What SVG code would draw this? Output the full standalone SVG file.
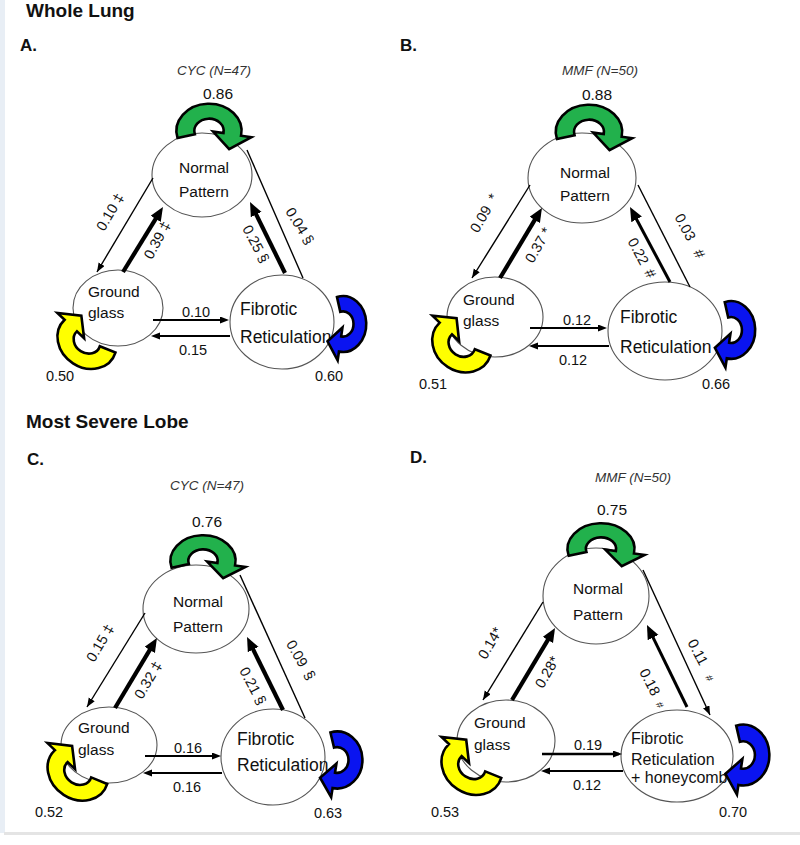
<svg xmlns="http://www.w3.org/2000/svg" xmlns:xlink="http://www.w3.org/1999/xlink" width="800" height="845" viewBox="0 0 800 845">
<style>
.bg{fill:#fff}
.node ellipse{fill:#fff;stroke:#555;stroke-width:1.1}
text{font-family:"Liberation Sans",Arial,Helvetica,sans-serif;fill:#111}
.h{font-size:19px;font-weight:bold}
.p{font-size:17px;font-weight:bold}
.g{font-size:13.5px;font-style:italic;fill:#333;text-anchor:middle}
.nl{font-size:15.5px}
.nc{font-size:15.5px;text-anchor:middle}
.fr{font-size:17.5px}
.frd{font-size:16px}
.v{font-size:15.5px;text-anchor:middle}
.e{font-size:14.5px;text-anchor:middle}
.thin{stroke:#000;stroke-width:1.4;fill:none}
.thick{stroke:#000;stroke-width:4.2;fill:none}
.med{stroke:#000;stroke-width:3;fill:none}
.hz{stroke:#000;stroke-width:1.8;fill:none}
.loop{stroke:#000;stroke-width:2.6;stroke-linejoin:miter}
</style>
<defs>
<marker id="mt" markerUnits="userSpaceOnUse" markerWidth="10" markerHeight="8" refX="9" refY="3.5" orient="auto"><path d="M0,0 L9,3.5 L0,7 Z" fill="#000"/></marker>
<marker id="mh" markerUnits="userSpaceOnUse" markerWidth="10" markerHeight="8" refX="6" refY="3.5" orient="auto"><path d="M0,0 L9,3.5 L0,7 Z" fill="#000"/></marker>
<marker id="mk" markerUnits="userSpaceOnUse" markerWidth="15" markerHeight="13" refX="3" refY="6" orient="auto"><path d="M0,0 L14,6 L0,12 Z" fill="#000"/></marker>
<path id="loop" d="M-29.94,8.02 A31,31 0 1 1 30.53,5.38 L40.38,7.12 L19.2,20.65 L3.94,0.69 L13.79,2.43 A14,14 0 1 0 -13.52,3.62 Z" vector-effect="non-scaling-stroke"/>
</defs>
<rect class="bg" x="0" y="0" width="800" height="845"/>
<rect x="0" y="0" width="5" height="833" fill="#e8eef5"/>
<rect x="4" y="832" width="796" height="3" fill="#e4e4e4"/>

<text class="h" x="26" y="17">Whole Lung</text>
<text class="h" x="26" y="428">Most Severe Lobe</text>
<text class="p" x="20" y="51">A.</text>
<text class="p" x="400" y="51">B.</text>
<text class="p" x="27" y="465">C.</text>
<text class="p" x="410" y="463">D.</text>
<text class="g" x="214" y="75">CYC (N=47)</text>
<text class="g" x="600" y="75">MMF (N=50)</text>
<text class="g" x="207" y="490">CYC (N=47)</text>
<text class="g" x="633" y="482">MMF (N=50)</text>

<!-- Panel A nodes -->
<g id="A-normal" class="node"><ellipse cx="202" cy="175" rx="50" ry="42"/><text class="nc" x="204" y="173">Normal</text><text class="nc" x="204" y="197">Pattern</text></g>
<g id="A-ground" class="node"><ellipse cx="118" cy="308" rx="45" ry="38"/><text class="nl" x="88" y="297">Ground</text><text class="nl" x="88" y="318">glass</text></g>
<g id="A-fibrotic" class="node"><ellipse cx="282" cy="322" rx="52" ry="47"/><text class="fr" x="240" y="315">Fibrotic</text><text class="fr" x="240" y="343">Reticulation</text></g>

<!-- Panel B nodes -->
<g id="B-normal" class="node"><ellipse cx="582" cy="178" rx="54" ry="45"/><text class="nc" x="585" y="178">Normal</text><text class="nc" x="585" y="201">Pattern</text></g>
<g id="B-ground" class="node"><ellipse cx="495" cy="317" rx="48" ry="40"/><text class="nl" x="463" y="305">Ground</text><text class="nl" x="463" y="326">glass</text></g>
<g id="B-fibrotic" class="node"><ellipse cx="665" cy="331" rx="57" ry="49"/><text class="fr" x="620" y="323">Fibrotic</text><text class="fr" x="620" y="353">Reticulation</text></g>

<!-- Panel C nodes -->
<g id="C-normal" class="node"><ellipse cx="196" cy="609" rx="53" ry="44"/><text class="nc" x="198" y="607">Normal</text><text class="nc" x="198" y="632">Pattern</text></g>
<g id="C-ground" class="node"><ellipse cx="109" cy="745" rx="48" ry="38"/><text class="nl" x="78" y="733">Ground</text><text class="nl" x="78" y="755">glass</text></g>
<g id="C-fibrotic" class="node"><ellipse cx="273" cy="757" rx="52" ry="48"/><text class="fr" x="237" y="745">Fibrotic</text><text class="fr" x="237" y="771">Reticulation</text></g>

<!-- Panel D nodes -->
<g id="D-normal" class="node"><ellipse cx="596" cy="596" rx="53" ry="48"/><text class="nc" x="598" y="594">Normal</text><text class="nc" x="598" y="620">Pattern</text></g>
<g id="D-ground" class="node"><ellipse cx="506" cy="741" rx="49" ry="41"/><text class="nl" x="474" y="728">Ground</text><text class="nl" x="474" y="750">glass</text></g>
<g id="D-fibrotic" class="node"><ellipse cx="677" cy="756" rx="56" ry="46"/><text class="frd" x="631" y="744">Fibrotic</text><text class="frd" x="631" y="765">Reticulation</text><text class="frd" x="631" y="783">+ honeycomb</text></g>

<g id="connectors">
<!-- Panel A -->
<line class="thin" x1="153" y1="178" x2="97" y2="272" marker-end="url(#mt)"/>
<line class="thick" x1="123" y1="272" x2="157.2" y2="216.4" marker-end="url(#mk)"/>
<line class="thick" x1="285" y1="273" x2="254.9" y2="211.9" marker-end="url(#mk)"/>
<line class="thin" x1="247" y1="150" x2="303" y2="278"/>
<line class="hz" x1="153" y1="320" x2="226" y2="320" marker-end="url(#mh)"/>
<line class="hz" x1="230" y1="336" x2="154" y2="336" marker-end="url(#mh)"/>
<!-- Panel B -->
<line class="thin" x1="530" y1="185" x2="472" y2="278" marker-end="url(#mt)"/>
<line class="thick" x1="500" y1="278" x2="536.3" y2="217.4" marker-end="url(#mk)"/>
<line class="med" x1="670" y1="282" x2="635.2" y2="216.7" marker-end="url(#mk)"/>
<line class="thin" x1="638" y1="185" x2="690" y2="287"/>
<line class="hz" x1="530" y1="328" x2="604" y2="328" marker-end="url(#mh)"/>
<line class="hz" x1="609" y1="346" x2="532" y2="346" marker-end="url(#mh)"/>
<!-- Panel C -->
<line class="thin" x1="145" y1="613" x2="87" y2="707" marker-end="url(#mt)"/>
<line class="thick" x1="115" y1="708" x2="151.3" y2="647.4" marker-end="url(#mk)"/>
<line class="thick" x1="283" y1="710" x2="251.9" y2="646.9" marker-end="url(#mk)"/>
<line class="thin" x1="240" y1="575" x2="305" y2="718"/>
<line class="hz" x1="145" y1="756" x2="218" y2="756" marker-end="url(#mh)"/>
<line class="hz" x1="222" y1="773" x2="146" y2="773" marker-end="url(#mh)"/>
<!-- Panel D -->
<line class="thin" x1="543" y1="602" x2="483" y2="700" marker-end="url(#mt)"/>
<line class="thick" x1="512" y1="700" x2="549.4" y2="637.4" marker-end="url(#mk)"/>
<line class="med" x1="687" y1="707" x2="651.8" y2="634.9" marker-end="url(#mk)"/>
<line class="thin" x1="643" y1="570" x2="710" y2="715" marker-end="url(#mt)"/>
<line class="hz" style="stroke-width:2.5" x1="542" y1="754" x2="619" y2="754" marker-end="url(#mh)"/>
<line class="hz" x1="623" y1="771" x2="544" y2="771" marker-end="url(#mh)"/>

<!-- self loops -->
<use xlink:href="#loop" class="loop" fill="#22b14c" transform="translate(209,131) scale(1.05,0.88)"/>
<use xlink:href="#loop" class="loop" fill="#ffff00" transform="translate(87,341) rotate(215) scale(1.0,0.85)"/>
<use xlink:href="#loop" class="loop" fill="#0a14f0" transform="translate(343,324) rotate(90) scale(0.9,0.75)"/>

<use xlink:href="#loop" class="loop" fill="#22b14c" transform="translate(589,132) scale(1.07,0.88)"/>
<use xlink:href="#loop" class="loop" fill="#ffff00" transform="translate(462,344) rotate(215) scale(1.0,0.87)"/>
<use xlink:href="#loop" class="loop" fill="#0a14f0" transform="translate(731,330) rotate(90) scale(0.93,0.78)"/>

<use xlink:href="#loop" class="loop" fill="#22b14c" transform="translate(203,561) scale(1.05,0.83)"/>
<use xlink:href="#loop" class="loop" fill="#ffff00" transform="translate(78,772) rotate(215) scale(1.03,0.87)"/>
<use xlink:href="#loop" class="loop" fill="#0a14f0" transform="translate(337,760) rotate(90) scale(0.92,0.82)"/>

<use xlink:href="#loop" class="loop" fill="#22b14c" transform="translate(601,549) scale(1.08,0.83)"/>
<use xlink:href="#loop" class="loop" fill="#ffff00" transform="translate(472,766) rotate(215) scale(1.03,0.88)"/>
<use xlink:href="#loop" class="loop" fill="#0a14f0" transform="translate(743,755) rotate(90) scale(0.98,0.85)"/>

<!-- edge labels A -->
<text class="e" transform="translate(110,212) rotate(-60)" dy="0.35em">0.10 ‡</text>
<text class="e" transform="translate(157,240) rotate(-62)" dy="0.35em">0.39 ‡</text>
<text class="e" transform="translate(256,244) rotate(62)" dy="0.35em">0.25 §</text>
<text class="e" transform="translate(300,226) rotate(58)" dy="0.35em">0.04 §</text>
<text class="e" x="196" y="317">0.10</text>
<text class="e" x="193" y="355">0.15</text>
<!-- edge labels B -->
<text class="e" transform="translate(484,213) rotate(-60)" dy="0.35em">0.09 <tspan dx="4">*</tspan></text>
<text class="e" transform="translate(538,245) rotate(-60)" dy="0.35em">0.37 *</text>
<text class="e" transform="translate(642,258) rotate(62)" dy="0.35em">0.22 <tspan dx="3">#</tspan></text>
<text class="e" transform="translate(690,236) rotate(62)" dy="0.35em">0.03 <tspan dx="8">#</tspan></text>
<text class="e" x="577" y="325">0.12</text>
<text class="e" x="573" y="365">0.12</text>
<!-- edge labels C -->
<text class="e" transform="translate(100,643) rotate(-60)" dy="0.35em">0.15 ‡</text>
<text class="e" transform="translate(148,680) rotate(-60)" dy="0.35em">0.32 ‡</text>
<text class="e" transform="translate(253,686) rotate(62)" dy="0.35em">0.21 §</text>
<text class="e" transform="translate(301,660) rotate(60)" dy="0.35em">0.09 <tspan dx="3">§</tspan></text>
<text class="e" x="188" y="753">0.16</text>
<text class="e" x="187" y="792">0.16</text>
<!-- edge labels D -->
<text class="e" transform="translate(490,643) rotate(-60)" dy="0.35em">0.14*</text>
<text class="e" transform="translate(547,672) rotate(-60)" dy="0.35em">0.28*</text>
<text class="e" transform="translate(653,688) rotate(63)" dy="0.35em">0.18 <tspan dx="4" font-size="10">#</tspan></text>
<text class="e" transform="translate(702,660) rotate(63)" dy="0.35em">0.11 <tspan dx="8" font-size="10">#</tspan></text>
<text class="e" x="588" y="750">0.19</text>
<text class="e" x="587" y="790">0.12</text>
</g>

<!-- loop values -->
<text class="v" x="218" y="99">0.86</text>
<text class="e" x="60" y="381">0.50</text>
<text class="e" x="329" y="381">0.60</text>
<text class="v" x="597" y="100">0.88</text>
<text class="e" x="433" y="389">0.51</text>
<text class="e" x="716" y="389">0.66</text>
<text class="v" x="207" y="527">0.76</text>
<text class="e" x="49" y="817">0.52</text>
<text class="e" x="328" y="818">0.63</text>
<text class="v" x="612" y="515">0.75</text>
<text class="e" x="445" y="817">0.53</text>
<text class="e" x="733" y="817">0.70</text>
</svg>
